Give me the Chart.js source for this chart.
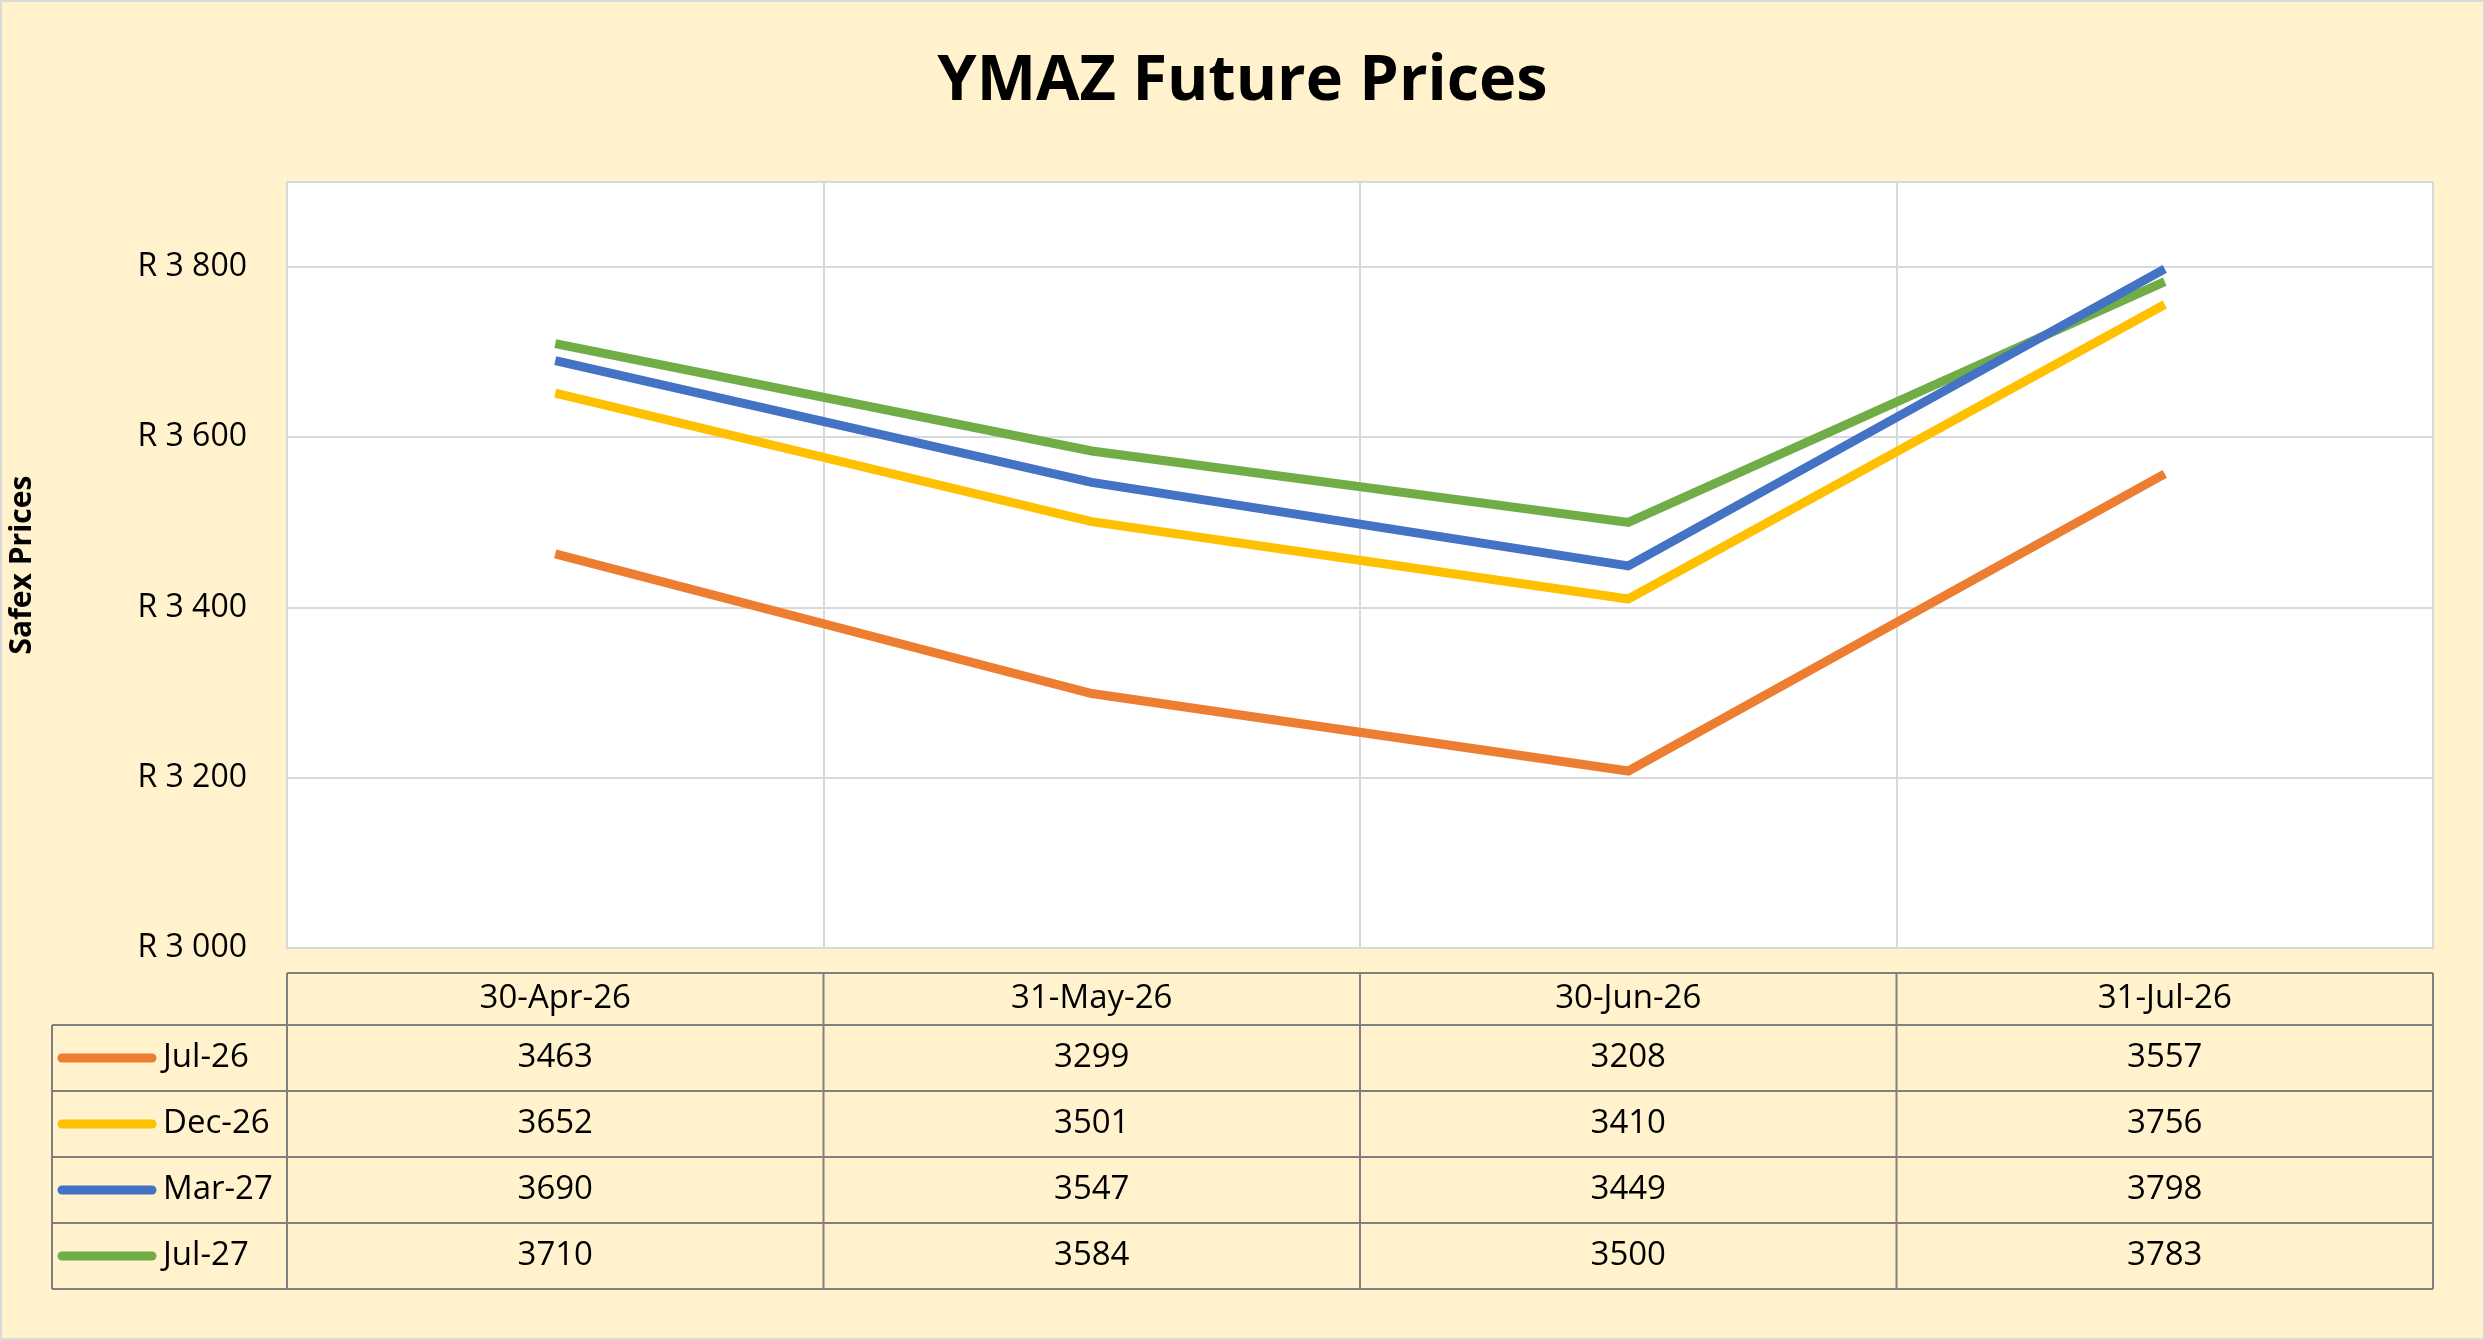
<!DOCTYPE html>
<html><head><meta charset="utf-8">
<script src="https://cdn.jsdelivr.net/npm/chart.js@4"></script>
<style>html,body{margin:0;padding:0;background:#FFF2CC;}canvas{display:block;}</style>
</head><body>
<canvas id="c" width="2485" height="1340"></canvas>
<script>
const categories = ['30-Apr-26','31-May-26','30-Jun-26','31-Jul-26'];
const seriesNames = ['Jul-26','Dec-26','Mar-27','Jul-27'];
const jul26 = [3463,3299,3208,3557];
const dec26 = [3652,3501,3410,3756];
const mar27 = [3690,3547,3449,3798];
const jul27 = [3710,3584,3500,3783];
const colors = ['#ED7D31','#FFC000','#4472C4','#70AD47'];
const FONT = '"Open Sans", sans-serif';
const values = [jul26,dec26,mar27,jul27];

const bgPlugin = {
  id:'bg',
  beforeDraw(chart){
    const c=chart.ctx; c.save();
    c.fillStyle='#FFF2CC'; c.fillRect(0,0,chart.width,chart.height);
    c.fillStyle='#FFFFFF';
    const a=chart.chartArea; c.fillRect(a.left,a.top,a.right-a.left,a.bottom-a.top);
    c.strokeStyle='#D9D9D9'; c.lineWidth=2; c.strokeRect(1,1,chart.width-2,chart.height-2);
    c.restore();
  },
  afterDraw(chart){
    const c=chart.ctx, a=chart.chartArea, xs=chart.scales.x;
    c.save();
    c.fillStyle='#000'; c.font='bold 63px '+FONT; c.textAlign='center'; c.textBaseline='middle';
    c.fillText('YMAZ Future Prices', chart.width/2, 82);
    const half=(xs.getPixelForValue(1)-xs.getPixelForValue(0))/2;
    const colL=categories.map((_,i)=>xs.getPixelForValue(i)-half);
    const right=xs.getPixelForValue(categories.length-1)+half;
    const legL=52, hTop=973, hBot=1025, rowH=66;
    const bottom=hBot+rowH*seriesNames.length;
    c.strokeStyle='#808080'; c.lineWidth=2;
    // header
    c.beginPath();
    c.moveTo(colL[0],hTop); c.lineTo(right,hTop);
    for(let r=0;r<=seriesNames.length;r++){const y=hBot+r*rowH; c.moveTo(legL,y); c.lineTo(right,y);}
    c.moveTo(legL,hBot); c.lineTo(legL,bottom);
    colL.forEach(x=>{c.moveTo(x,hTop); c.lineTo(x,bottom);});
    c.moveTo(right,hTop); c.lineTo(right,bottom);
    c.stroke();
    c.fillStyle='#000'; c.font='33px '+FONT; c.textAlign='center';
    categories.forEach((cat,i)=>c.fillText(cat, xs.getPixelForValue(i), (hTop+hBot)/2));
    seriesNames.forEach((n,r)=>{
      const y=hBot+r*rowH+rowH/2;
      c.strokeStyle=colors[r]; c.lineWidth=9; c.lineCap='round';
      c.beginPath(); c.moveTo(62,y); c.lineTo(152,y); c.stroke();
      c.textAlign='left'; c.fillText(n,163,y);
      c.textAlign='center';
      values[r].forEach((v,i)=>c.fillText(String(v), xs.getPixelForValue(i), y));
    });
    c.restore();
  }
};

new Chart(document.getElementById('c'),{
  type:'line',
  data:{labels:categories, datasets:seriesNames.map((n,i)=>({label:n,data:values[i],borderColor:colors[i],backgroundColor:colors[i],borderWidth:9,pointRadius:0,tension:0}))},
  options:{
    responsive:false, animation:false,
    layout:{padding:{top:182,bottom:392,right:52,left:0}},
    plugins:{legend:{display:false},title:{display:false},tooltip:{enabled:false}},
    scales:{
      x:{offset:true, grid:{offset:true,color:'#D9D9D9',lineWidth:2,drawTicks:false}, border:{color:'#D9D9D9',width:2}, ticks:{display:false}, afterFit(s){s.height=0;}},
      y:{min:3000,max:3900, grid:{color:'#D9D9D9',lineWidth:2,drawTicks:false}, border:{color:'#D9D9D9',width:2},
        ticks:{stepSize:200,padding:40,color:'#000',font:{family:FONT,size:32},callback:v=>v===3900?'':'R '+String(v).replace(/\B(?=(\d{3})+$)/g,' ')},
        title:{display:true,text:'Safex Prices',color:'#000',font:{family:FONT,size:30,weight:'bold'}},
        afterFit(s){s.width=287;}}
    }
  },
  plugins:[bgPlugin]
});
</script>
</body></html>
